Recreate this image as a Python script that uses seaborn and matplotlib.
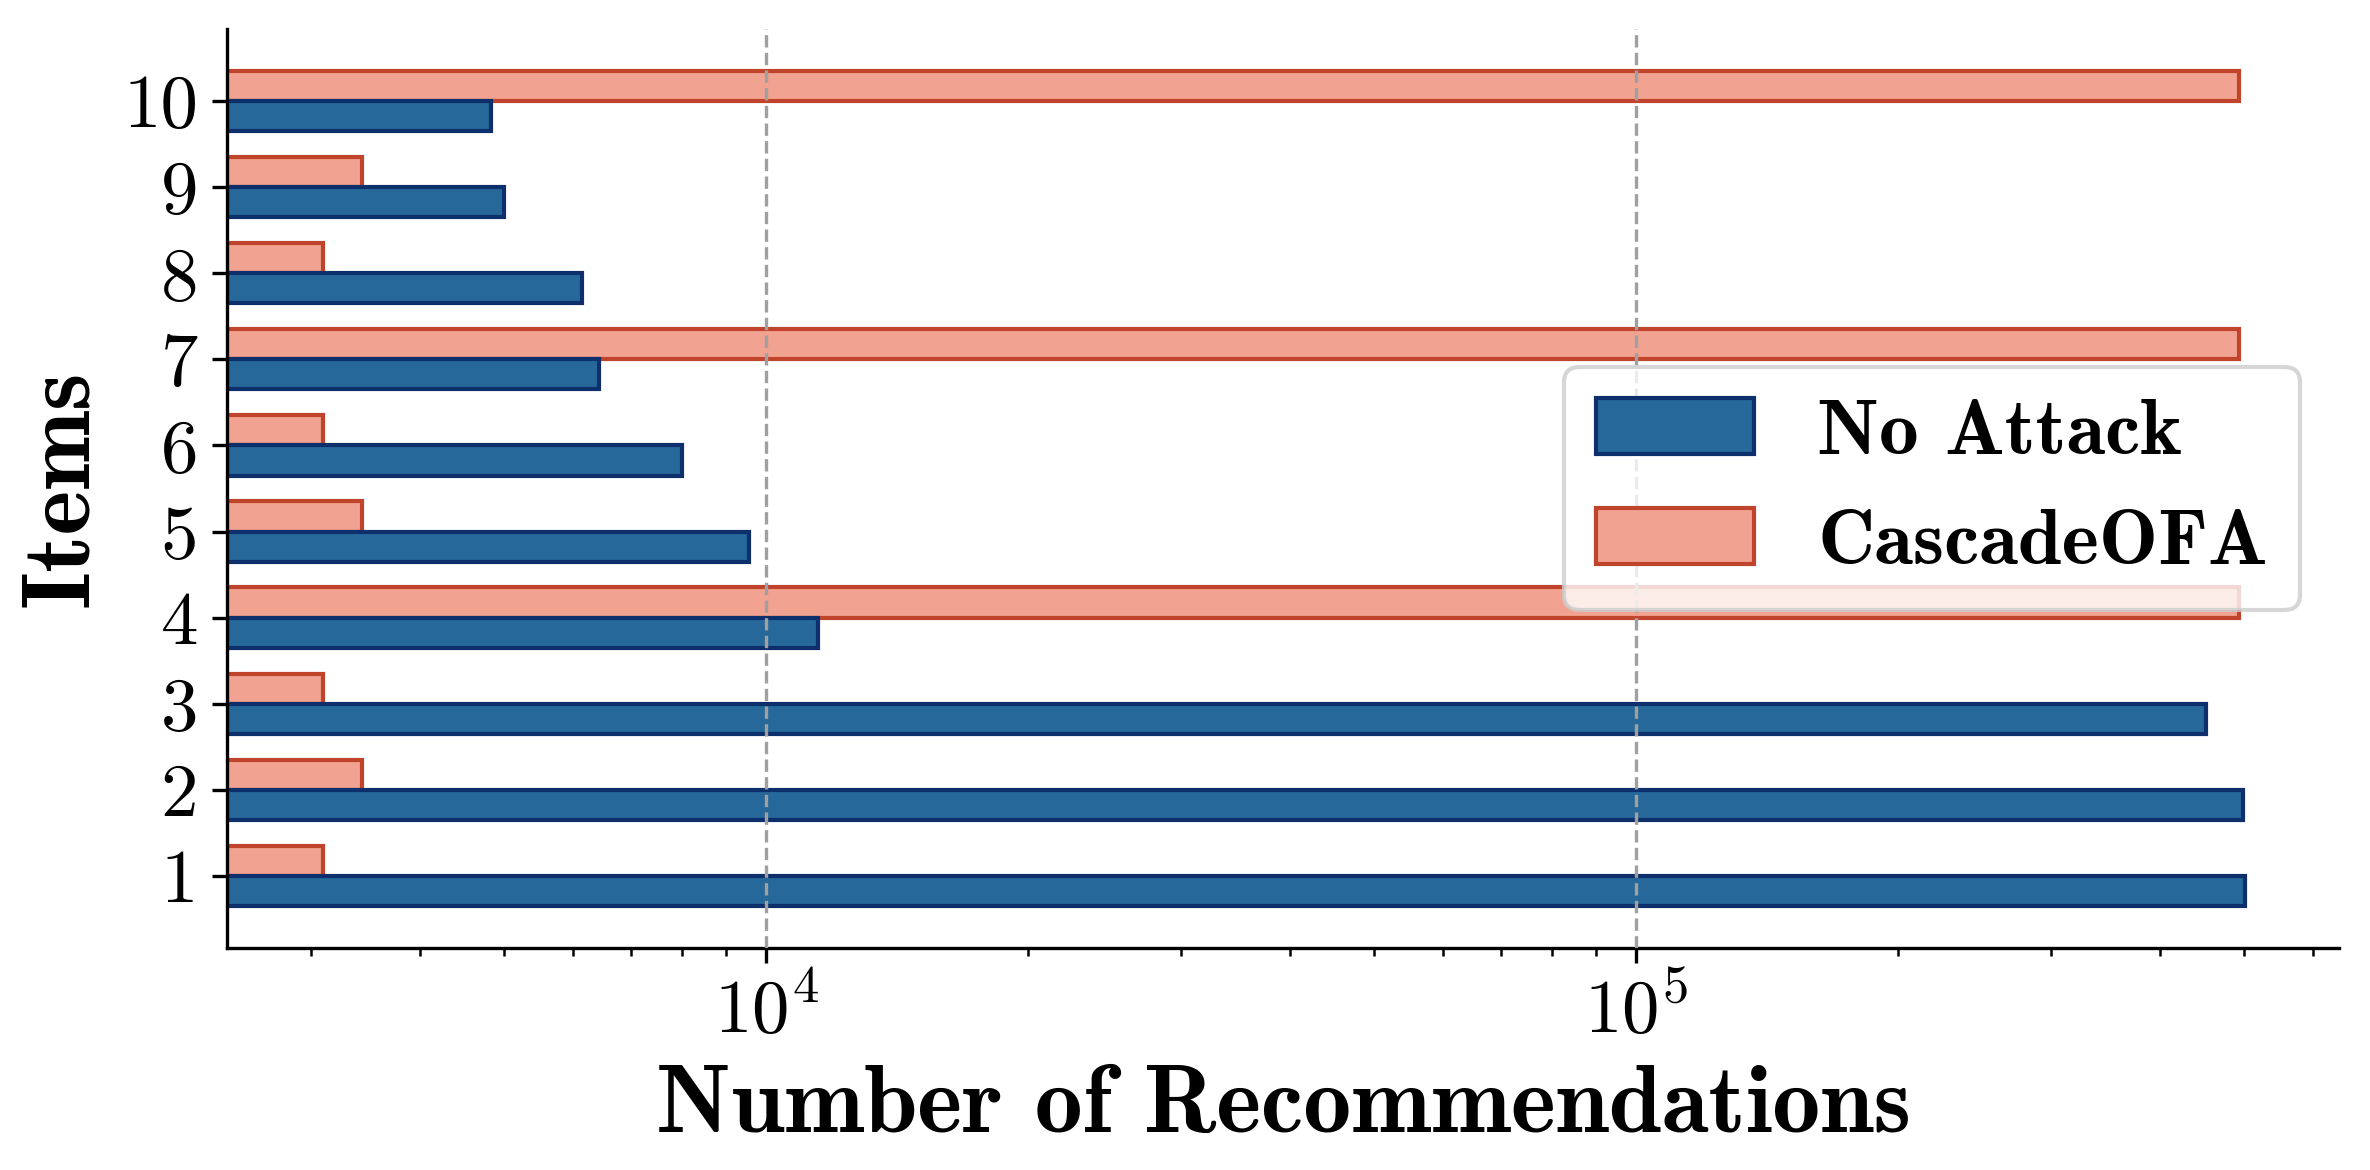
import matplotlib
matplotlib.use("Agg")
import matplotlib.pyplot as plt
import seaborn as sns
import pandas as pd

# ---- data ----
items = ["1", "2", "3", "4", "5", "6", "7", "8", "9", "10"]
no_attack = [501000, 498400, 451900, 11475, 9563, 8009, 6425, 6147, 5000, 4830]
cascade_ofa = [3094, 3427, 3094, 492600, 3427, 3094, 492600, 3094, 3427, 492600]
methods = ["No Attack", "CascadeOFA"]

fill_colors = {"No Attack": "#266899", "CascadeOFA": "#f2a290"}
edge_colors = {"No Attack": "#0d2f6b", "CascadeOFA": "#c0432c"}

df = pd.DataFrame({
    "item": items * 2,
    "value": no_attack + cascade_ofa,
    "method": [methods[0]] * len(items) + [methods[1]] * len(items),
})

plt.rcParams["font.family"] = "cmr10"
plt.rcParams["mathtext.fontset"] = "cm"
plt.rcParams["axes.formatter.use_mathtext"] = True

fig, ax = plt.subplots(figsize=(7.9, 3.9), dpi=300)
fig.subplots_adjust(left=0.0958, right=0.987, top=0.975, bottom=0.19)

hue_order = ["CascadeOFA", "No Attack"]
sns.barplot(data=df, x="value", y="item", hue="method", orient="h",
            order=items[::-1], hue_order=hue_order, palette=fill_colors,
            saturation=1, width=0.7, legend=False, ax=ax, linewidth=1.0)

ax.set_xscale("log")
base = 1.0
for cont, name in zip(ax.containers, hue_order):
    for p in cont:
        right = p.get_x() + p.get_width()
        p.set_x(base)
        p.set_width(right - base)
        p.set_edgecolor(edge_colors[name])
        p.set_linewidth(1.0)

ax.set_xlim(2400, 643000)
ax.set_ylim(9.835, -0.835)

ax.grid(axis="x", which="major", linestyle="--", color="#a0a0a0", linewidth=0.8)
ax.grid(axis="y", visible=False)
ax.set_axisbelow(False)

sns.despine(ax=ax)
ax.tick_params(axis="both", labelsize=18)
ax.set_xlabel("Number of Recommendations", fontsize=23, fontfamily="cmb10")
ax.set_ylabel("Items", fontsize=23, fontfamily="cmb10")

handles = [ax.containers[1], ax.containers[0]]
leg = ax.legend(handles, ["No Attack", "CascadeOFA"], loc="center right",
                prop={"family": "cmb10", "size": 19})

fig.savefig("out.png", dpi=300)
